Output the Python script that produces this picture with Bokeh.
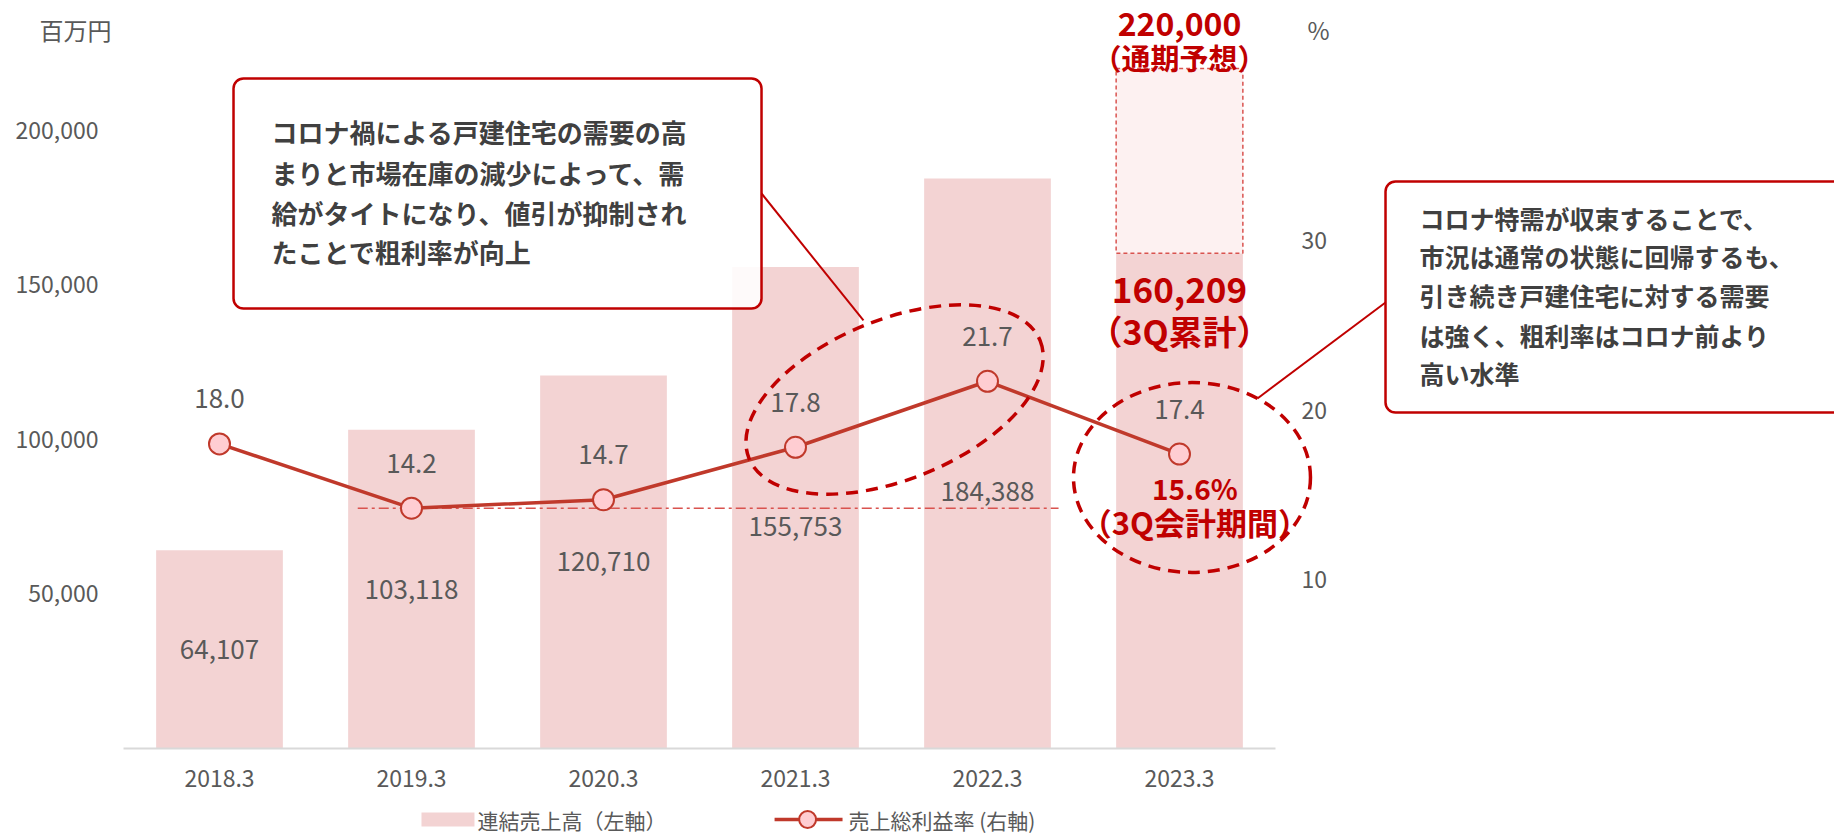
from bokeh.plotting import figure
from bokeh.models import (Range1d, LinearAxis, FixedTicker, NumeralTickFormatter,
                          ColumnDataSource)
from bokeh.core.properties import value
from bokeh.embed import file_html
from bokeh.resources import INLINE

# ---------------- data ----------------
categories = ["2018.3", "2019.3", "2020.3", "2021.3", "2022.3", "2023.3"]
sales = [64107, 103118, 120710, 155753, 184388, 160209]          # 連結売上高 (百万円)
forecast_2023 = 220000                                             # 通期予想
gross_margin = [18.0, 14.2, 14.7, 17.8, 21.7, 17.4]               # 売上総利益率 (%)
q3_margin = 15.6                                                   # 3Q会計期間
left_ticks = [50000, 100000, 150000, 200000]
right_ticks = [10, 20, 30]
legend_labels = ["連結売上高（左軸）", "売上総利益率 (右軸)"]

note1 = ["コロナ禍による戸建住宅の需要の高",
         "まりと市場在庫の減少によって、需",
         "給がタイトになり、値引が抑制され",
         "たことで粗利率が向上"]
note2 = ["コロナ特需が収束することで、",
         "市況は通常の状態に回帰するも、",
         "引き続き戸建住宅に対する需要",
         "は強く、粗利率はコロナ前より",
         "高い水準"]

# ---------------- styles ----------------
FONT = "Noto Sans CJK JP"
GRAY = "#595959"
DARK = "#404040"
RED = "#C00000"
BAR = "#F3D3D3"
LINE = "#C0392B"
MARK = "#FFCDD2"

idx = list(range(len(categories)))

p = figure(width=1834, height=835, output_backend="svg", toolbar_location=None,
           x_range=Range1d(-0.5, 5.5), y_range=Range1d(0, 242000),
           min_border_left=123, min_border_right=559, min_border_top=0,
           min_border_bottom=87)
p.extra_y_ranges = {"pct": Range1d(0, 44.2)}
p.outline_line_color = None
p.xgrid.visible = False
p.ygrid.visible = False
p.background_fill_color = "white"
p.border_fill_color = "white"

# axes
xa = p.xaxis[0]
xa.ticker = FixedTicker(ticks=idx)
xa.major_label_overrides = {i: c for i, c in zip(idx, categories)}
xa.axis_line_color = "#D9D9D9"
xa.axis_line_width = 2
xa.major_tick_line_color = None
xa.minor_tick_line_color = None
xa.major_label_standoff = 15
xa.major_label_text_font = FONT
xa.major_label_text_font_size = "23px"
xa.major_label_text_color = GRAY

ya = p.yaxis[0]
ya.ticker = FixedTicker(ticks=left_ticks)
ya.formatter = NumeralTickFormatter(format="0,0")
ya.axis_line_color = None
ya.major_tick_line_color = None
ya.minor_tick_line_color = None
ya.major_label_standoff = 19
ya.major_label_text_font = FONT
ya.major_label_text_font_size = "23px"
ya.major_label_text_color = GRAY

ra = LinearAxis(y_range_name="pct", ticker=FixedTicker(ticks=right_ticks))
ra.axis_line_color = None
ra.major_tick_line_color = None
ra.minor_tick_line_color = None
ra.major_label_standoff = 20
ra.major_label_text_font = FONT
ra.major_label_text_font_size = "23px"
ra.major_label_text_color = GRAY
p.add_layout(ra, "right")

# bars
bars = p.vbar(x=idx, top=sales, width=0.66, fill_color=BAR, line_color=None)
p.vbar(x=[idx[-1]], bottom=[sales[-1]], top=[forecast_2023], width=0.66,
       fill_color="#FDF1F1", line_color="#D9534F", line_dash="4 3", line_width=1.5)

# bar value labels (centered inside bars)
bar_src = ColumnDataSource(dict(
    x=idx[:-1], y=[v / 2 for v in sales[:-1]],
    t=["{:,}".format(v) for v in sales[:-1]],
    dy=[0, 0, 0, 19, 28]))
p.text(x="x", y="y", text="t", y_offset="dy", source=bar_src,
       text_font=value(FONT), text_font_size="26px", text_color=GRAY,
       text_align="center", text_baseline="middle")

# reference dash-dot line at 2019.3 margin level
p.line(x=[0.72, 4.37], y=[gross_margin[1], gross_margin[1]], y_range_name="pct",
       line_color="#D9534F", line_width=1.5, line_dash="10 4 3 4")

# margin line
line_r = p.line(x=idx, y=gross_margin, y_range_name="pct", line_color=LINE, line_width=3.5)
mark_r = p.scatter(x=idx, y=gross_margin, y_range_name="pct", size=21,
                   fill_color=MARK, line_color=LINE, line_width=2)
m_src = ColumnDataSource(dict(x=idx, y=gross_margin,
                              t=["{:.1f}".format(v) for v in gross_margin]))
p.text(x="x", y="y", text="t", y_offset=-45, source=m_src, y_range_name="pct",
       text_font=value(FONT), text_font_size="26px", text_color=GRAY,
       text_align="center", text_baseline="middle")


def free_text(x, y, txt, size, color, bold=False, align="center", dy=0, yr=None):
    kw = {} if yr is None else {"y_range_name": yr}
    p.text(x=[x], y=[y], text=[txt], y_offset=dy, text_font=value(FONT),
           text_font_size=size, text_font_style="bold" if bold else "normal",
           text_color=color, text_align=align, text_baseline="middle",
           level="annotation", **kw)


# red labels on 2023.3
free_text(idx[-1], forecast_2023, "{:,}".format(forecast_2023), "32px", RED, True, dy=-45)
free_text(idx[-1], forecast_2023, "（通期予想）", "29px", RED, True, dy=-12)
free_text(idx[-1], sales[-1], "{:,}".format(sales[-1]), "35px", RED, True, dy=37)
free_text(idx[-1], sales[-1], "（3Q累計）", "34px", RED, True, dy=77)
free_text(idx[-1] + 0.08, gross_margin[-1], "{:.1f}%".format(q3_margin), "28px", RED, True,
          dy=34, yr="pct")
free_text(idx[-1] + 0.08, gross_margin[-1], "（3Q会計期間）", "31px", RED, True,
          dy=67, yr="pct")

# dashed ellipses
p.ellipse(x=[3.516], y=[112912], width=[314], height=[160], angle=0.384,
          width_units="screen", height_units="screen", fill_color=None,
          line_color=RED, line_width=3.5, line_dash="12 8", level="annotation")
p.ellipse(x=[5.065], y=[87677], width=[237], height=[190],
          width_units="screen", height_units="screen", fill_color=None,
          line_color=RED, line_width=3.5, line_dash="12 8", level="annotation")

# callout boxes + connectors
p.quad(left=[0.073, 6.073], right=[2.823, 8.6], bottom=[142353, 108706],
       top=[216765, 183442], border_radius=10, fill_color="white", fill_alpha=0.88,
       line_color=RED, line_width=2.5, level="annotation")
p.segment(x0=[2.823, 6.073], y0=[179559, 144294], x1=[3.354, 5.406], y1=[138471, 113236],
          line_color=RED, line_width=2, level="annotation")

for t, yy in zip(note1, [199618, 186353, 173412, 160633]):
    free_text(0.271, yy, t, "26px", DARK, True, align="left")
for t, yy in zip(note2, [171633, 159177, 146656, 133780, 121647]):
    free_text(6.25, yy, t, "25px", DARK, True, align="left")

# axis unit titles
free_text(-0.75, 232618, "百万円", "24px", GRAY)
free_text(5.724, 232618, "%", "24px", GRAY)

# legend (drawn below the category axis)
LEG_Y = -22971
p.quad(left=[1.052], right=[1.328], bottom=[-25236], top=[-20706],
       fill_color=BAR, line_color=None, level="annotation")
free_text(1.344, LEG_Y, legend_labels[0], "21px", GRAY, align="left")
p.line(x=[2.891, 3.245], y=[LEG_Y, LEG_Y], line_color=LINE, line_width=3.5, level="annotation")
p.quad(left=[3.063 - 0.044], right=[3.063 + 0.044], bottom=[LEG_Y - 2750],
       top=[LEG_Y + 2750], border_radius=9, fill_color=MARK, line_color=LINE,
       line_width=2, level="annotation")
free_text(3.276, LEG_Y, legend_labels[1], "21px", GRAY, align="left")

open("out.html", "w").write(file_html(p, INLINE))
